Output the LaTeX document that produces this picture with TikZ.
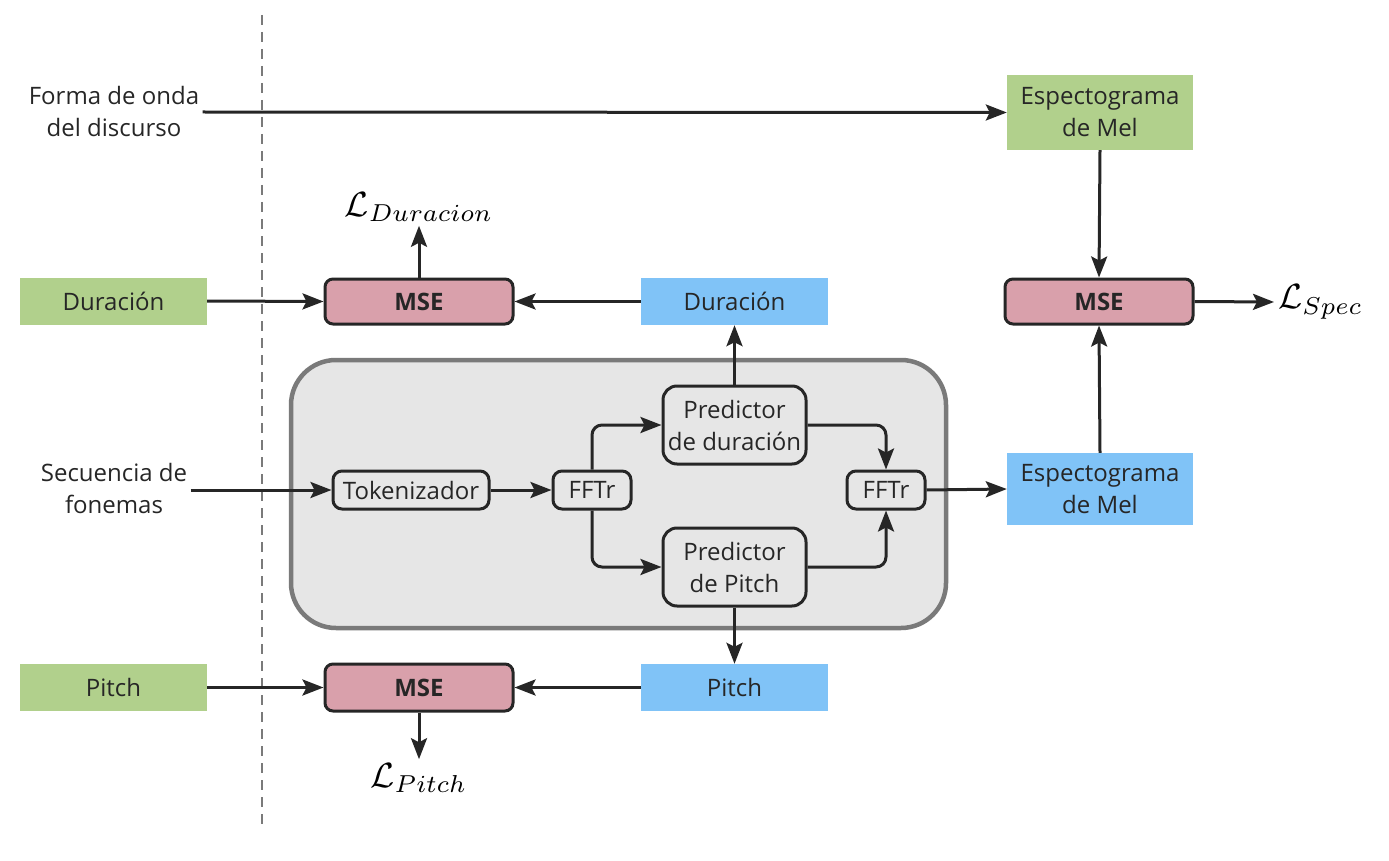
\documentclass[tikz,border=0pt]{standalone}
\usepackage{fontspec}
\setmainfont{Open Sans}
\usetikzlibrary{arrows.meta}
\definecolor{inkc}{HTML}{262626}
\definecolor{gtruth}{HTML}{B1D08C}
\definecolor{predc}{HTML}{80C3F7}
\definecolor{lossc}{HTML}{D9A0AB}
\definecolor{modelc}{HTML}{E6E6E6}
\definecolor{frame}{HTML}{7A7A7A}
\tikzset{
  txt/.style={font=\fontsize{24}{32}\selectfont, text=inkc, align=center},
  flat/.style={txt, inner sep=0pt, minimum width=187pt, minimum height=47pt},
  gtbox/.style={flat, fill=gtruth},
  prbox/.style={flat, fill=predc},
  msebox/.style={txt, font=\fontsize{24}{32}\selectfont\bfseries, draw=inkc, line width=3pt,
    fill=lossc, rounded corners=8pt, minimum width=188pt, minimum height=45pt, inner sep=0pt},
  block/.style={txt, draw=inkc, line width=3pt, fill=modelc, rounded corners=9pt,
    inner sep=0pt, minimum height=38pt},
  arr/.style={draw=inkc, line width=3pt, -{Stealth[length=21pt,width=16pt,inset=4pt]}},
  loss/.style={text=black, scale=3.5, inner sep=1pt}
}
\begin{document}
\begin{tikzpicture}[x=1pt,y=-1pt]
\useasboundingbox (0,0) rectangle (1389,861);

% split between inputs and the network
\draw[frame, line width=2.5pt, dash pattern=on 10pt off 7pt] (262,15) -- (262,830);

% model container
\draw[frame, line width=4.5pt, fill=modelc, rounded corners=45pt] (291,360) rectangle (946,628);

% inputs
\node[txt] (wave) at (114,112) {Forma de onda\\del discurso};
\node[txt] (phon) at (114,488) {Secuencia de\\fonemas};

% ground-truth targets
\node[gtbox, minimum width=186pt, minimum height=75pt] (melgt) at (1100,112.5) {Espectograma\\de Mel};
\node[gtbox] (durgt) at (113.5,301) {Duración};
\node[gtbox] (pitgt) at (113.5,687.5) {Pitch};

% predictions
\node[prbox, minimum width=186pt, minimum height=72pt] (melpr) at (1100,489) {Espectograma\\de Mel};
\node[prbox] (durpr) at (734.5,301.5) {Duración};
\node[prbox] (pitpr) at (734.5,687.5) {Pitch};

% losses
\node[msebox] (msed) at (419,301.5) {MSE};
\node[msebox] (msem) at (1099,301.5) {MSE};
\node[msebox, minimum height=47pt] (msep) at (419,687.5) {MSE};

\node[loss] (ld) at (419,207) {$\mathcal{L}_{Duracion}$};
\node[loss] (lp) at (419,778) {$\mathcal{L}_{Pitch}$};
\node[loss, anchor=west] (ls) at (1274,302) {$\mathcal{L}_{Spec}$};

% network blocks
\node[block, minimum width=156pt] (tok) at (411,490) {Tokenizador};
\node[block, minimum width=78pt] (ff1) at (592,490) {FFTr};
\node[block, minimum width=78pt] (ff2) at (886,490) {FFTr};
\node[block, minimum width=143pt, minimum height=78pt, rounded corners=14pt] (pd) at (734.5,425) {Predictor\\de duración};
\node[block, minimum width=143pt, minimum height=78pt, rounded corners=14pt] (pp) at (734.5,567) {Predictor\\de Pitch};

% connectors
\draw[arr] (wave.east) -- (melgt.west);
\draw[arr] (melgt.south) -- (msem.north);
\draw[arr] (melpr.north) -- (msem.south);
\draw[arr] (msem.east) -- (ls.west);

\draw[arr] (durgt.east) -- (msed.west);
\draw[arr] (durpr.west) -- (msed.east);
\draw[arr] (msed.north) -- (ld.south);

\draw[arr] (pitgt.east) -- (msep.west);
\draw[arr] (pitpr.west) -- (msep.east);
\draw[arr] (msep.south) -- (lp.north);

\draw[arr] (phon.east |- tok.west) -- (tok.west);
\draw[arr] (tok.east) -- (ff1.west);
\draw[arr, rounded corners=10pt] (ff1.north) |- (pd.west);
\draw[arr, rounded corners=10pt] (ff1.south) |- (pp.west);
\draw[arr, rounded corners=10pt] (pd.east) -| (ff2.north);
\draw[arr, rounded corners=10pt] (pp.east) -| (ff2.south);
\draw[arr] (ff2.east) -- (melpr.west);
\draw[arr] (pd.north) -- (durpr.south);
\draw[arr] (pp.south) -- (pitpr.north);
\end{tikzpicture}
\end{document}
